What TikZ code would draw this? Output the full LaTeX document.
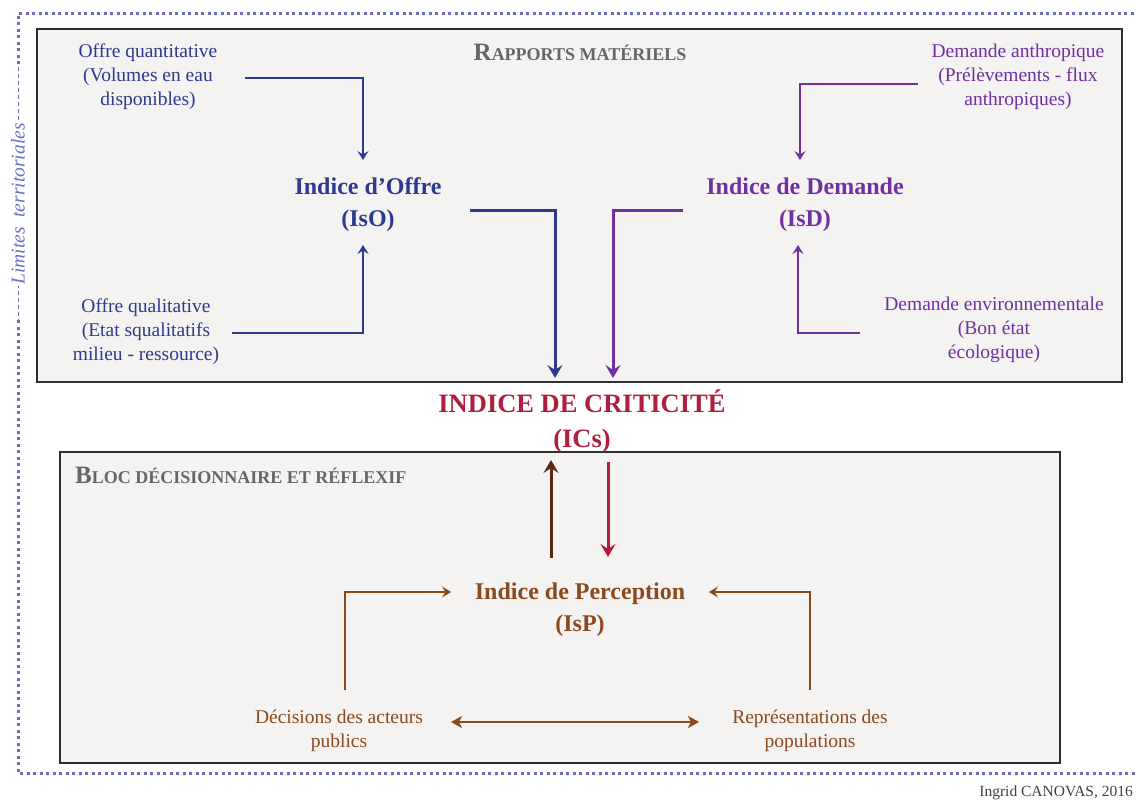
\documentclass[tikz,border=0pt]{standalone}
\usepackage{fontspec}
\setmainfont{Liberation Serif}
\usetikzlibrary{arrows.meta}
\definecolor{bordblue}{HTML}{6B6FC4}
\definecolor{navy}{HTML}{2E3A8F}
\definecolor{purp}{HTML}{7030A0}
\definecolor{crim}{HTML}{B01E3C}
\definecolor{brn}{HTML}{8B4A1E}
\definecolor{dbrn}{HTML}{5A2812}
\definecolor{boxfill}{HTML}{F4F3F1}
\definecolor{hdr}{HTML}{666666}
\definecolor{boxline}{HTML}{2F2F2F}
\tikzset{
  smalltxt/.style={font=\fontsize{19.5}{24}\selectfont, align=center, inner sep=0pt},
  bigtxt/.style={font=\bfseries\fontsize{24}{32}\selectfont, align=center, inner sep=0pt},
  hdrtxt/.style={font=\bfseries, text=hdr, inner sep=0pt},
  panel/.style={draw=boxline, line width=2pt, fill=boxfill},
  thinarr/.style={line width=1.4pt, -{Stealth[length=9pt,width=11pt,inset=3.5pt]}},
  thickarr/.style={line width=3pt, -{Stealth[length=13pt,width=15pt,inset=5pt]}},
  dblarr/.style={line width=1.8pt, {Stealth[length=11pt,width=12pt,inset=3pt]}-{Stealth[length=11pt,width=12pt,inset=3pt]}},
  dotline/.style={draw=bordblue, line width=3pt, dash pattern=on 3pt off 3.5pt},
  dashline/.style={draw=bordblue, line width=1pt, dash pattern=on 4pt off 3pt}
}
\begin{document}
\begin{tikzpicture}[x=1pt,y=-1pt]
\useasboundingbox (0,0) rectangle (1136,801);
% territorial limits
\draw[dotline] (1140,13) -- (18,13) -- (18,67);
\draw[dotline] (18,320) -- (18,773) -- (1140,773);
\draw[dashline] (18,67) -- (18,320);
\node[rotate=90, fill=white, inner sep=1pt, text=bordblue, font=\itshape\fontsize{19.5}{19.5}\selectfont] (lim) at (18,204) {Limites\ \ territoriales};
% panels
\draw[panel] (37,29) rectangle (1122,382);
\draw[panel] (60,452) rectangle (1060,763);
\node[hdrtxt] (h1) at (580,52) {{\fontsize{25}{25}\selectfont R}{\fontsize{18}{18}\selectfont APPORTS MATÉRIELS}};
\node[hdrtxt, anchor=west] (h2) at (75,475) {{\fontsize{25}{25}\selectfont B}{\fontsize{18}{18}\selectfont LOC DÉCISIONNAIRE ET RÉFLEXIF}};
% upper block texts
\node[smalltxt, text=navy] (oq) at (148,77) {Offre quantitative\\(Volumes en eau\\disponibles)};
\node[smalltxt, text=navy] (oql) at (146,332) {Offre qualitative\\(Etat squalitatifs\\milieu - ressource)};
\node[bigtxt, text=navy] (iso) at (368,205) {Indice d’Offre\\(IsO)};
\node[bigtxt, text=purp] (isd) at (805,205) {Indice de Demande\\(IsD)};
\node[smalltxt, text=purp] (da) at (1018,77) {Demande anthropique\\(Prélèvements - flux\\anthropiques)};
\node[smalltxt, text=purp] (de) at (994,330) {Demande environnementale\\(Bon état\\écologique)};
\node[font=\bfseries\fontsize{26.5}{35}\selectfont, align=center, inner sep=0pt, text=crim] (ics) at (582,421) {INDICE DE CRITICITÉ\\(ICs)};
% lower block texts
\node[bigtxt, text=brn] (isp) at (580,610) {Indice de Perception\\(IsP)};
\node[smalltxt, text=brn] (dec) at (339,731) {Décisions des acteurs\\publics};
\node[smalltxt, text=brn] (rep) at (810,731) {Représentations des\\populations};
\node[anchor=east, inner sep=0pt, text=black!75, font=\fontsize{15.5}{16}\selectfont] (cred) at (1133,793) {Ingrid CANOVAS, 2016};
% coordinates for connectors
\coordinate (oqout) at (245,78);
\coordinate (isoin1) at (363,160);
\coordinate (oqlout) at (232,333);
\coordinate (isoin2) at (363,245);
\coordinate (daout) at (918,84);
\coordinate (isdin1) at (800,160);
\coordinate (deout) at (860,333);
\coordinate (isdin2) at (798,245);
\coordinate (isoout) at (470,210);
\coordinate (icsin1) at (555,378);
\coordinate (isdout) at (683,210);
\coordinate (icsin2) at (613,378);
\coordinate (ispup) at (551,558);
\coordinate (icsbot1) at (551,460);
\coordinate (icsbot2) at (608,462);
\coordinate (ispin) at (608,557);
\coordinate (decup) at (345,690);
\coordinate (ispw) at (451,592);
\coordinate (repup) at (810,690);
\coordinate (ispe) at (709,592);
\coordinate (decr) at (451,722);
\coordinate (repl) at (699,722);
% connectors
\draw[thinarr, navy] (oqout) -| (isoin1);
\draw[thinarr, navy] (oqlout) -| (isoin2);
\draw[thinarr, purp] (daout) -| (isdin1);
\draw[thinarr, purp] (deout) -| (isdin2);
\draw[thickarr, navy] (isoout) -| (icsin1);
\draw[thickarr, purp] (isdout) -| (icsin2);
\draw[thickarr, dbrn] (ispup) -- (icsbot1);
\draw[thickarr, crim] (icsbot2) -- (ispin);
\draw[thinarr, brn] (decup) |- (ispw);
\draw[thinarr, brn] (repup) |- (ispe);
\draw[dblarr, brn] (decr) -- (repl);
\end{tikzpicture}
\end{document}
